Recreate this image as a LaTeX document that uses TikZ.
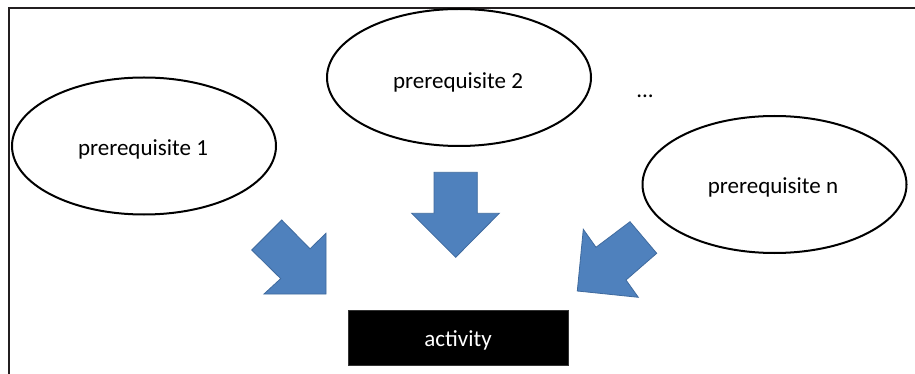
\documentclass[tikz,border=0pt]{standalone}
\usepackage{fontspec}
\setmainfont{Carlito}
\usetikzlibrary{shapes.geometric}
\definecolor{framecol}{HTML}{231F20}
\definecolor{blockblue}{HTML}{4F81BD}
\definecolor{blockedge}{HTML}{3F6A9E}
\tikzset{
  prereq/.style={ellipse, draw=black, line width=2pt, fill=white,
    minimum width=264pt, minimum height=137pt, inner sep=0pt},
  label/.style={inner sep=0pt, font=\fontsize{23}{27}\selectfont},
  actbox/.style={rectangle, fill=black, draw=black!80, line width=0.6pt,
    minimum width=220pt, minimum height=55pt, inner sep=0pt,
    text height=20pt, text depth=3pt,
    text=white, font=\fontsize{23}{27}\selectfont},
  blockarrow/.style={fill=blockblue, draw=blockedge, line width=0.8pt, line join=miter},
  framerule/.style={draw=framecol, line width=2.4pt}
}
\begin{document}
\begin{tikzpicture}[x=1pt, y=-1pt]
  \useasboundingbox (0,0) rectangle (915,374);
  \fill[white] (0,0) rectangle (915,374);

  % frame rules along the top and left edges
  \draw[framerule] (915,8) -- (9,8) -- (9,374);

  % prerequisite ellipses
  \node[prereq] (p1) at (144,146) {};
  \node[prereq] (p2) at (459,77.5) {};
  \node[prereq] (pn) at (774.5,184.5) {};
  \node[label] (t1) at (143,149) {prerequisite 1};
  \node[label] (t2) at (458,82) {prerequisite 2};
  \node[label] (tn) at (773,187) {prerequisite n};
  \node[label] (dots) at (645,96) {...};

  % block arrows pointing at the activity
  \draw[blockarrow] (281.7,220) -- (310,248.8) -- (326,233.3) -- (326,294)
    -- (264,294) -- (280.7,278.6) -- (251.7,250) -- cycle;
  \draw[blockarrow] (434,172.3) -- (477.3,172.3) -- (477.3,213.3) -- (499.3,213.3)
    -- (455.7,257.3) -- (411.7,213.3) -- (434,213.3) -- cycle;
  \draw[blockarrow] (583.3,229.3) -- (596,247.3) -- (630,221.7) -- (656.7,253.3)
    -- (626,280) -- (638.3,297.3) -- (577.3,291) -- cycle;

  % activity box
  \node[actbox] (act) at (458,337.5) {activity};
\end{tikzpicture}
\end{document}
